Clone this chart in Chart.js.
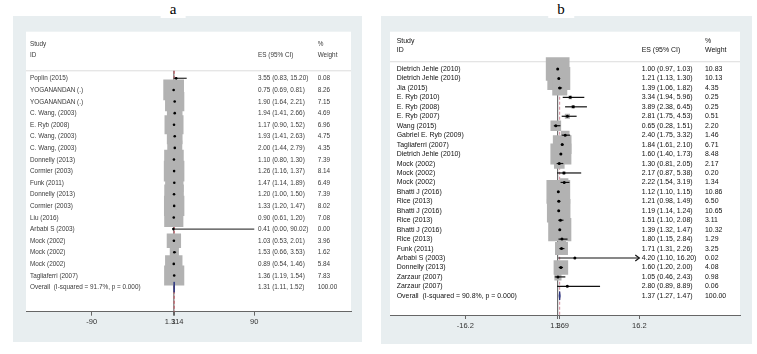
<!DOCTYPE html>
<html>
<head>
<meta charset="utf-8">
<script src="https://cdn.jsdelivr.net/npm/chart.js@4.4.0/dist/chart.umd.min.js"></script>
<style>
body{margin:0;background:#fff;width:757px;height:354px;position:relative;overflow:hidden}
.panel{position:absolute;background:#e8eef0}
.ttl{position:absolute;top:0;font:15px "Liberation Serif",serif;background:#fff;padding:0 9px;transform:translateX(-50%);line-height:18px;z-index:2}
</style>
</head>
<body>
<div class="panel" style="left:13px;top:16px;width:349px;height:326px"><canvas id="ca" width="349" height="326"></canvas></div>
<div class="panel" style="left:381px;top:16px;width:371px;height:328px"><canvas id="cb" width="371" height="328"></canvas></div>
<div class="ttl" style="left:173px">a</div>
<div class="ttl" style="left:561px">b</div>
<script>
// panel a
const studiesA = ['Poplin (2015)', 'YOGANANDAN (.)', 'YOGANANDAN (.)', 'C. Wang, (2003)', 'E. Ryb (2008)',
    'C. Wang, (2003)', 'C. Wang, (2003)', 'Donnelly (2013)', 'Cormier (2003)', 'Funk (2011)',
    'Donnelly (2013)', 'Cormier (2003)', 'Liu (2016)', 'Arbabi S (2003)', 'Mock (2002)',
    'Mock (2002)', 'Mock (2002)', 'Tagliaferri (2007)'];
const esA = [3.55, 0.75, 1.90, 1.94, 1.17, 1.93, 2.00, 1.10, 1.26, 1.47, 1.20, 1.33, 0.90, 0.41, 1.03, 1.53, 0.89, 1.36];
const loA = [0.83, 0.69, 1.64, 1.41, 0.90, 1.41, 1.44, 0.80, 1.16, 1.14, 1.00, 1.20, 0.61, 0.00, 0.53, 0.66, 0.54, 1.19];
const hiA = [15.20, 0.81, 2.21, 2.66, 1.52, 2.63, 2.79, 1.30, 1.37, 1.89, 1.50, 1.47, 1.20, 90.02, 2.01, 3.53, 1.46, 1.54];
const weightA = [0.08, 8.26, 7.15, 4.69, 6.96, 4.75, 4.35, 7.39, 8.14, 6.49, 7.39, 8.02, 7.08, 0.00, 3.96, 1.62, 5.84, 7.83];
const overallLabelA = 'Overall  (I-squared = 91.7%, p = 0.000)';
const overallA = [1.31, 1.11, 1.52];
const ticksA = [-90, 1, 1.314, 90];
const tickLabelsA = ['-90', '1', '1.314', '90'];

// panel b
const studiesB = ['Dietrich Jehle (2010)', 'Dietrich Jehle (2010)', 'Jia (2015)', 'E. Ryb (2010)', 'E. Ryb (2008)',
    'E. Ryb (2007)', 'Wang (2015)', 'Gabriel E. Ryb (2009)', 'Tagliaferri (2007)', 'Dietrich Jehle (2010)',
    'Mock (2002)', 'Mock (2002)', 'Mock (2002)', 'Bhatti J (2016)', 'Rice (2013)', 'Bhatti J (2016)',
    'Rice (2013)', 'Bhatti J (2016)', 'Rice (2013)', 'Funk (2011)', 'Arbabi S (2003)', 'Donnelly (2013)',
    'Zarzaur (2007)', 'Zarzaur (2007)'];
const esB = [1.00, 1.21, 1.39, 3.34, 3.89, 2.81, 0.65, 2.40, 1.84, 1.60, 1.30, 2.17, 2.22, 1.12, 1.21, 1.19, 1.51, 1.39, 1.80, 1.71, 4.20, 1.60, 1.05, 2.80];
const loB = [0.97, 1.13, 1.06, 1.94, 2.38, 1.75, 0.28, 1.75, 1.61, 1.40, 0.81, 0.87, 1.54, 1.10, 0.98, 1.14, 1.10, 1.32, 1.15, 1.31, 1.10, 1.20, 0.46, 0.89];
const hiB = [1.03, 1.30, 1.82, 5.96, 6.45, 4.53, 1.51, 3.32, 2.10, 1.73, 2.05, 5.38, 3.19, 1.15, 1.49, 1.24, 2.08, 1.47, 2.84, 2.26, 16.20, 2.00, 2.43, 8.89];
const weightB = [10.83, 10.13, 4.35, 0.25, 0.25, 0.51, 2.20, 1.46, 6.71, 8.48, 2.17, 0.20, 1.34, 10.86, 6.50, 10.65, 3.11, 10.32, 1.29, 3.25, 0.02, 4.08, 0.98, 0.06];
const overallLabelB = 'Overall  (I-squared = 90.8%, p = 0.000)';
const overallB = [1.37, 1.27, 1.47];
const ticksB = [-16.2, 1, 1.369, 16.2];
const tickLabelsB = ['-16.2', '1', '1.369', '16.2'];

const BOX = 7.2; // box side in px per sqrt(weight)

function makePanel(id, p) {
    const n = p.studies.length;
    const boxes = p.es.map((v, i) => ({x: v, y: i}));
    const forest = {
        id: 'forest',
        beforeDraw(chart) {
            const a = chart.chartArea, c = chart.ctx;
            c.save();
            c.fillStyle = '#fff';
            c.fillRect(a.left, a.top, a.right - a.left, a.bottom - a.top);
            c.restore();
        },
        beforeDatasetsDraw(chart) {
            const a = chart.chartArea, c = chart.ctx, xs = chart.scales.x, ys = chart.scales.y;
            const ySep = ys.getPixelForValue(p.sepRow);
            c.save();
            c.strokeStyle = '#dcdcdc';
            c.lineWidth = 1;
            c.beginPath(); c.moveTo(a.left, ySep); c.lineTo(a.right, ySep); c.stroke();
            // null line
            c.strokeStyle = '#555';
            c.beginPath(); c.moveTo(xs.getPixelForValue(1), ySep); c.lineTo(xs.getPixelForValue(1), a.bottom); c.stroke();
            // overall line
            c.strokeStyle = p.dashColor;
            c.setLineDash([3, 2]);
            const xo = xs.getPixelForValue(p.overall[0]);
            c.beginPath(); c.moveTo(xo, ySep); c.lineTo(xo, a.bottom); c.stroke();
            c.restore();
        },
        afterDatasetDraw(chart, args) {
            if (args.index !== 0) return;
            const c = chart.ctx, xs = chart.scales.x, ys = chart.scales.y;
            const maxT = p.ticks[p.ticks.length - 1];
            c.save();
            c.strokeStyle = p.ciColor;
            c.lineWidth = p.ciWidth;
            for (let i = 0; i < n; i++) {
                const y = ys.getPixelForValue(i);
                const x1 = xs.getPixelForValue(p.lo[i]);
                const x2 = xs.getPixelForValue(Math.min(p.hi[i], maxT));
                c.beginPath(); c.moveTo(x1, y); c.lineTo(x2, y); c.stroke();
                if (p.arrows && p.hi[i] >= maxT) {
                    c.beginPath(); c.moveTo(x2 - 4, y - 3); c.lineTo(x2, y); c.lineTo(x2 - 4, y + 3); c.stroke();
                }
            }
            // diamond
            const yo = ys.getPixelForValue(n), h = ys.getPixelForValue(n + 0.45) - yo;
            const xl = xs.getPixelForValue(p.overall[1]), xm = xs.getPixelForValue(p.overall[0]), xr = xs.getPixelForValue(p.overall[2]);
            c.fillStyle = '#2a3580';
            c.strokeStyle = '#2a3580';
            c.lineWidth = 1;
            c.beginPath(); c.moveTo(xl, yo); c.lineTo(xm, yo - h); c.lineTo(xr, yo); c.lineTo(xm, yo + h); c.closePath();
            c.fill(); c.stroke();
            c.restore();
        },
        afterDraw(chart) {
            const a = chart.chartArea, c = chart.ctx, ys = chart.scales.y;
            c.save();
            c.fillStyle = p.textColor;
            c.font = p.fontSize + 'px "Liberation Sans", Arial, sans-serif';
            c.textBaseline = 'middle';
            const txt = (s, col, row) => {
                c.save();
                c.translate(a.left + col, ys.getPixelForValue(row));
                c.scale(p.sx, 1);
                c.fillText(s, 0, 0);
                c.restore();
            };
            txt('Study', p.cols[0], -3);
            txt('ID', p.cols[0], -2);
            txt('ES (95% CI)', p.cols[1], -2);
            txt('%', p.cols[2], -3);
            txt('Weight', p.cols[2], -2);
            const f = v => v.toFixed(2);
            for (let i = 0; i < n; i++) {
                txt(p.studies[i], p.cols[0], i);
                txt(f(p.es[i]) + ' (' + f(p.lo[i]) + ', ' + f(p.hi[i]) + ')', p.cols[1], i);
                txt(f(p.weight[i]), p.cols[2], i);
            }
            txt(p.overallLabel, p.cols[0], n);
            txt(f(p.overall[0]) + ' (' + f(p.overall[1]) + ', ' + f(p.overall[2]) + ')', p.cols[1], n);
            txt('100.00', p.cols[2], n);
            c.restore();
        }
    };

    new Chart(document.getElementById(id), {
        type: 'scatter',
        data: {
            datasets: [
                {
                    data: boxes,
                    order: 2,
                    pointStyle: 'rect',
                    pointRadius: ctx => BOX * Math.sqrt(p.weight[ctx.dataIndex] || 0) / 2 / Math.SQRT1_2,
                    backgroundColor: '#b2b2b2',
                    borderWidth: 0
                },
                {
                    data: boxes,
                    order: 1,
                    pointStyle: 'circle',
                    pointRadius: p.dot,
                    backgroundColor: '#000',
                    borderWidth: 0
                }
            ]
        },
        options: {
            responsive: false,
            animation: false,
            events: [],
            layout: {padding: p.pad, autoPadding: false},
            plugins: {legend: {display: false}, tooltip: {enabled: false}},
            scales: {
                x: {
                    type: 'linear',
                    min: p.xmin,
                    max: p.xmax,
                    afterBuildTicks: s => { s.ticks = p.ticks.map(v => ({value: v})); },
                    afterFit: s => { s.height = p.axisH; s.paddingLeft = 0; s.paddingRight = 0; },
                    ticks: {
                        autoSkip: false,
                        maxRotation: 0,
                        padding: 2,
                        color: '#333',
                        font: {family: '"Liberation Sans", Arial', size: 7.5},
                        callback: (v, i) => p.tickLabels[i]
                    },
                    grid: {drawOnChartArea: false, drawTicks: true, tickLength: 4, color: '#666'},
                    border: {display: true, color: '#666', width: 1}
                },
                y: {
                    type: 'linear',
                    display: false,
                    reverse: true,
                    min: p.ymin,
                    max: p.ymax
                }
            }
        },
        plugins: [forest]
    });
}

makePanel('ca', {
    studies: studiesA, es: esA, lo: loA, hi: hiA, weight: weightA,
    overall: overallA, overallLabel: overallLabelA,
    ticks: ticksA, tickLabels: tickLabelsA,
    xmin: -162.7, xmax: 197.1, ymin: -4.02, ymax: 20.12,
    pad: {left: 13, right: 11, top: 15.7, bottom: 0}, axisH: 30.3,
    sepRow: -0.65, cols: [4, 232, 291.7],
    fontSize: 7.5, sx: 0.85, textColor: '#3a3a3a',
    dashColor: '#c8505a', ciColor: '#444', ciWidth: 1.4, dot: 1.3, arrows: false
});

makePanel('cb', {
    studies: studiesB, es: esB, lo: loB, hi: hiB, weight: weightB,
    overall: overallB, overallLabel: overallLabelB,
    ticks: ticksB, tickLabels: tickLabelsB,
    xmin: -30.22, xmax: 34.95, ymin: -3.95, ymax: 26.03,
    pad: {left: 9, right: 12, top: 15.7, bottom: 0}, axisH: 29,
    sepRow: -0.77, cols: [6.7, 251.7, 315],
    fontSize: 7.3, sx: 0.95, textColor: '#111',
    dashColor: '#d08898', ciColor: '#111', ciWidth: 1.2, dot: 1.5, arrows: true
});
</script>
</body>
</html>
